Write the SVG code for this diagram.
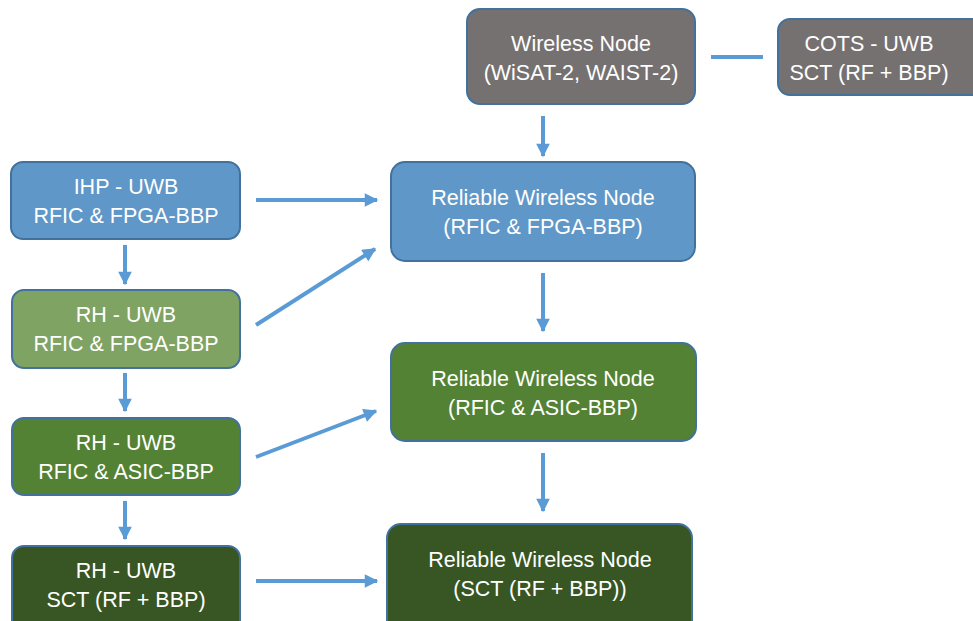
<svg xmlns="http://www.w3.org/2000/svg" width="973" height="621" viewBox="0 0 973 621">
<style>
.box{stroke:#41719c;stroke-width:2}
.t{font-family:"Liberation Sans",Arial,sans-serif;font-size:21.5px;fill:#ffffff;text-anchor:middle}
.c{stroke:#5b9bd5;stroke-width:4;fill:none}
</style>
<defs>
<marker id="ah" viewBox="0 0 10 10" refX="9" refY="5" markerWidth="3.6" markerHeight="3.4" orient="auto" markerUnits="strokeWidth">
<path d="M0,0 L10,5 L0,10 Z" fill="#5b9bd5"/>
</marker>
</defs>
<rect width="973" height="621" fill="#ffffff"/>
<g id="wn">
<rect class="box" x="467" y="9" width="228" height="95" rx="13" fill="#767171"/>
<text class="t" x="581" y="51">Wireless Node</text>
<text class="t" x="581" y="80">(WiSAT-2, WAIST-2)</text>
</g>
<g id="cots">
<rect class="box" x="778" y="19" width="210" height="76" rx="12" fill="#767171"/>
<text class="t" x="869" y="51">COTS - UWB</text>
<text class="t" x="869" y="80">SCT (RF + BBP)</text>
</g>
<g id="rwn1">
<rect class="box" x="391" y="162" width="304" height="99" rx="14" fill="#5f97c8"/>
<text class="t" x="543" y="205">Reliable Wireless Node</text>
<text class="t" x="543" y="234">(RFIC &amp; FPGA-BBP)</text>
</g>
<g id="rwn2">
<rect class="box" x="391" y="343" width="305" height="98" rx="14" fill="#548235"/>
<text class="t" x="543" y="386">Reliable Wireless Node</text>
<text class="t" x="543" y="415">(RFIC &amp; ASIC-BBP)</text>
</g>
<g id="rwn3">
<rect class="box" x="387" y="524" width="305" height="110" rx="14" fill="#375623"/>
<text class="t" x="540" y="567">Reliable Wireless Node</text>
<text class="t" x="540" y="596">(SCT (RF + BBP))</text>
</g>
<g id="ihp">
<rect class="box" x="11" y="162" width="229" height="77" rx="12" fill="#5f97c8"/>
<text class="t" x="126" y="194">IHP - UWB</text>
<text class="t" x="126" y="223">RFIC &amp; FPGA-BBP</text>
</g>
<g id="rh1">
<rect class="box" x="12" y="290" width="228" height="78" rx="12" fill="#7fa363"/>
<text class="t" x="126" y="322">RH - UWB</text>
<text class="t" x="126" y="351">RFIC &amp; FPGA-BBP</text>
</g>
<g id="rh2">
<rect class="box" x="12" y="418" width="228" height="77" rx="12" fill="#548235"/>
<text class="t" x="126" y="450">RH - UWB</text>
<text class="t" x="126" y="479">RFIC &amp; ASIC-BBP</text>
</g>
<g id="rh3">
<rect class="box" x="12" y="546" width="228" height="90" rx="12" fill="#375623"/>
<text class="t" x="126" y="578">RH - UWB</text>
<text class="t" x="126" y="607">SCT (RF + BBP)</text>
</g>
<g id="connectors">
<line class="c" x1="711" y1="57" x2="763" y2="57"/>
<line class="c" x1="543" y1="116" x2="543" y2="156" marker-end="url(#ah)"/>
<line class="c" x1="543" y1="273" x2="543" y2="331" marker-end="url(#ah)"/>
<line class="c" x1="543" y1="453" x2="543" y2="511" marker-end="url(#ah)"/>
<line class="c" x1="256" y1="200" x2="377" y2="200" marker-end="url(#ah)"/>
<line class="c" x1="256" y1="325" x2="375" y2="249" marker-end="url(#ah)"/>
<line class="c" x1="256" y1="457" x2="376" y2="411" marker-end="url(#ah)"/>
<line class="c" x1="256" y1="581" x2="377" y2="581" marker-end="url(#ah)"/>
<line class="c" x1="125" y1="245" x2="125" y2="284" marker-end="url(#ah)"/>
<line class="c" x1="125" y1="373" x2="125" y2="411" marker-end="url(#ah)"/>
<line class="c" x1="125" y1="501" x2="125" y2="539" marker-end="url(#ah)"/>
</g>
</svg>
